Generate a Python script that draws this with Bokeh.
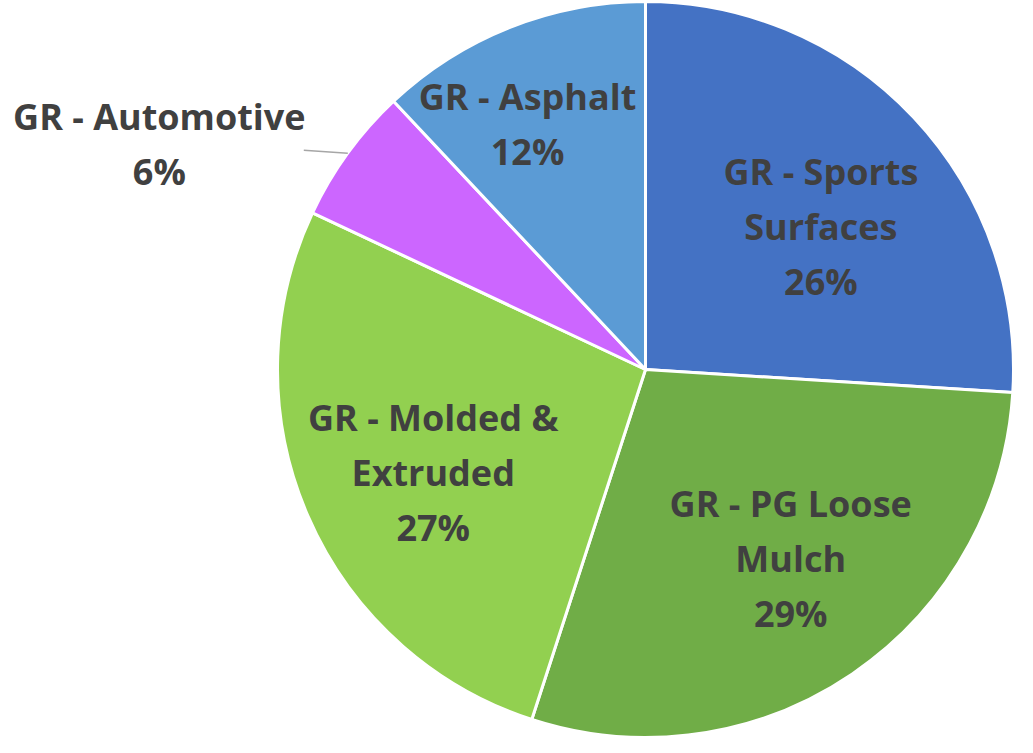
import math
from bokeh.plotting import figure
from bokeh.core.properties import value
from bokeh.embed import file_html
from bokeh.resources import INLINE

# ---- data ----
categories = ["GR - Sports Surfaces", "GR - PG Loose Mulch", "GR - Molded & Extruded",
              "GR - Automotive", "GR - Asphalt"]
label_lines = [["GR - Sports", "Surfaces"], ["GR - PG Loose", "Mulch"],
               ["GR - Molded &", "Extruded"], ["GR - Automotive"], ["GR - Asphalt"]]
shares = [26, 29, 27, 6, 12]
colors = ["#4472C4", "#70AD47", "#92D050", "#CC66FF", "#5B9BD5"]

# ---- layout (pixels) ----
W, H = 1017, 737
CX, CY, R = 645, 368, 368
# label anchor: (polar angle in degrees, distance from centre)
label_pos = [(39.1, 226), (-52.4, 238), (205.9, 236), (155.1, 536), (115.7, 272)]
LINE_H = 55
FONT = "Open Sans"
FS = "36px"
TXT = "#404040"

p = figure(width=W, height=H, x_range=(0, W), y_range=(0, H),
           output_backend="svg", toolbar_location=None, min_border=0)
p.axis.visible = False
p.grid.visible = False
p.outline_line_color = None
p.background_fill_color = "white"
p.border_fill_color = "white"

total = float(sum(shares))
cum = 0.0
starts, ends = [], []
for s in shares:
    starts.append(math.pi / 2 - cum / total * 2 * math.pi)
    cum += s
    ends.append(math.pi / 2 - cum / total * 2 * math.pi)

p.wedge(x=[CX] * len(shares), y=[CY] * len(shares), radius=R,
        start_angle=starts, end_angle=ends, direction="clock",
        fill_color=colors, line_color="white", line_width=3)

tx, ty, tt = [], [], []
for i, lines in enumerate(label_lines):
    ang, dist = label_pos[i]
    ax = CX + dist * math.cos(math.radians(ang))
    ay = CY + dist * math.sin(math.radians(ang))
    full = lines + [f"{shares[i]}%"]
    n = len(full)
    for j, t in enumerate(full):
        tx.append(ax)
        ty.append(ay - (j - (n - 1) / 2) * LINE_H)
        tt.append(t)

p.text(x=tx, y=ty, text=tt, text_font=value(FONT), text_font_size=FS,
       text_font_style="bold", text_color=TXT, text_align="center",
       text_baseline="middle")

# leader line for the outside label (Automotive)
i = 3
mid = (starts[i] + ends[i]) / 2
ex, ey = CX + R * math.cos(mid), CY + R * math.sin(mid)
p.line(x=[ex - 44, ex], y=[ey + 3, ey], line_color="#A6A6A6", line_width=1.5)

open("out.html", "w").write(file_html(p, INLINE))
